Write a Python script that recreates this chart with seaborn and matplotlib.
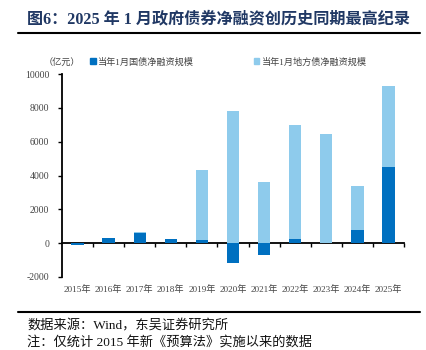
import matplotlib
matplotlib.use("Agg")
import matplotlib.pyplot as plt
import matplotlib.transforms as mtransforms
from matplotlib.patches import Rectangle
from matplotlib.lines import Line2D
import numpy as np
import pandas as pd
import seaborn as sns

years = ["2015年", "2016年", "2017年", "2018年", "2019年", "2020年",
         "2021年", "2022年", "2023年", "2024年", "2025年"]
national = [-90, 300, 630, 275, 180, -1160, -670, 275, 0, 790, 4510]
local = [0, 0, 40, 0, 4170, 7840, 3600, 6700, 6440, 2580, 4790]
yticks = [-2000, 0, 2000, 4000, 6000, 8000, 10000]
series_names = ["当年1月国债净融资规模", "当年1月地方债净融资规模"]
title = "图6：2025 年 1 月政府债券净融资创历史同期最高纪录"
source = "数据来源：Wind，东吴证券研究所"
note = "注：仅统计 2015 年新《预算法》实施以来的数据"
unit = "（亿元）"

dark = "#0070C0"
light = "#8ECBEC"
fam = ["Liberation Serif", "Noto Sans CJK SC"]

sns.set_style("white")
plt.rcParams["font.family"] = fam

fig = plt.figure(figsize=(4.26, 3.5), dpi=100)
W, H = 426, 350
ax = fig.add_axes([62 / W, 1 - 277 / H, (404 - 62) / W, (277 - 74) / H])

df = pd.DataFrame({"year": years, "national": national, "local": local})
df["base"] = [max(v, 0) for v in national]

sns.barplot(data=df, x="year", y="national", color=dark, width=0.4,
            saturation=1, ax=ax, zorder=2, linewidth=0)
sns.barplot(data=df, x="year", y="local", bottom=df["base"], color=light,
            width=0.4, saturation=1, ax=ax, zorder=2, linewidth=0)

ax.set_xlim(-0.5, len(years) - 0.5)
ax.set_ylim(-2000, 10000)
ax.set_yticks(yticks)
ax.set_yticklabels([str(v) for v in yticks], fontsize=7, color="#444444",
                   family="Liberation Serif")
ax.set_xlabel("")
ax.set_ylabel("")

for s in ["top", "right"]:
    ax.spines[s].set_visible(False)
ax.spines["left"].set_linewidth(1.3)
ax.spines["left"].set_color("black")
ax.spines["bottom"].set_position(("data", 0))
ax.spines["bottom"].set_linewidth(1.3)
ax.spines["bottom"].set_color("black")
ax.spines["bottom"].set_zorder(1)

ax.tick_params(axis="y", direction="out", length=3, width=1, color="black", pad=6, left=True)
ax.set_xticks(np.arange(len(years)))
ax.set_xticklabels([])
ax.tick_params(axis="x", which="major", length=0)
ax.set_xticks(np.arange(0.5, len(years)), minor=True)
ax.tick_params(axis="x", which="minor", direction="out", length=3, width=1,
               color="black", bottom=True)

trans = mtransforms.blended_transform_factory(ax.transData, fig.transFigure)
for i, y in enumerate(years):
    ax.text(i, 1 - 290 / H, y, transform=trans, ha="center", va="center",
            fontsize=6.6, color="#444444", family=fam)

# title and rules
fig.text(27 / W, 1 - 19 / H, title, fontsize=11.6, fontweight="bold",
         color="#203864", va="center", ha="left", family=fam)
fig.add_artist(Line2D([18 / W, 420 / W], [1 - 33 / H, 1 - 33 / H],
                      color="black", lw=1.5, transform=fig.transFigure))
fig.add_artist(Line2D([18 / W, 420 / W], [1 - 312 / H, 1 - 312 / H],
                      color="black", lw=1.5, transform=fig.transFigure))
fig.text(27 / W, 1 - 326 / H, source, fontsize=9.5, color="#111111",
         va="center", ha="left", family=fam)
fig.text(27 / W, 1.5 / H, note, fontsize=9.5, color="#111111",
         va="bottom", ha="left", family=fam)

# unit and legend
fig.text(62 / W, 1 - 62 / H, unit, fontsize=6.6, color="#444444",
         ha="center", va="center", family=fam)
handles = [Rectangle((0, 0), 1, 1, color=dark), Rectangle((0, 0), 1, 1, color=light)]
fig.legend(handles, series_names, loc="center left",
           bbox_to_anchor=(90 / W, 1 - 62 / H), ncol=2, frameon=False,
           fontsize=6.6, handlelength=0.6, handleheight=0.6, handletextpad=0.3,
           columnspacing=6.5, labelcolor="#444444", borderaxespad=0, borderpad=0)

fig.savefig("out.png", dpi=100)
